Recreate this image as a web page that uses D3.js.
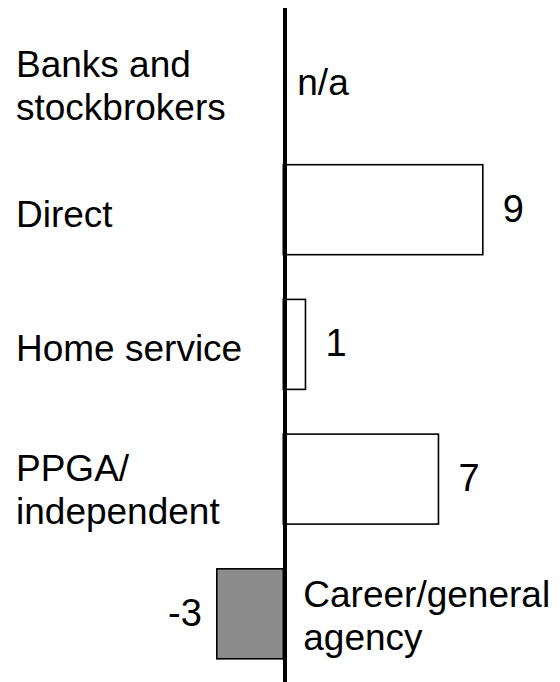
<!DOCTYPE html>
<html>
<head>
<meta charset="utf-8">
<script src="https://cdn.jsdelivr.net/npm/d3@7"></script>
<style>
  body { margin: 0; background: #fff; }
  text { font-family: "Liberation Sans", Arial, sans-serif; fill: #000; }
</style>
</head>
<body>
<div id="chart"></div>
<script>
// rows from top to bottom
const categories = ["Banks and stockbrokers", "Direct", "Home service", "PPGA/ independent", "Career/general agency"];
// label lines for each category
const labelLines = [["Banks and", "stockbrokers"], ["Direct"], ["Home service"], ["PPGA/", "independent"], ["Career/general", "agency"]];
// null = not available
const values = [null, 9, 1, 7, -3];
const valueLabels = ["n/a", "9", "1", "7", "-3"];

const w = 560;
const h = 682;
const fontSize = 37;
const numSize = 38;
const lineH = 43;

const svg = d3.select("#chart")
  .append("svg")
  .attr("width", w)
  .attr("height", h);

const xScale = d3.scaleLinear()
  .domain([-3, 9])
  .range([216.8, 482.8]);

const yScale = d3.scaleBand()
  .domain(categories)
  .range([30, 658.8])
  .paddingInner(0.332)
  .paddingOuter(0);

const rows = categories.map((c, i) => ({ cat: c, lines: labelLines[i], v: values[i], lab: valueLabels[i] }));

// bars
svg.selectAll("rect.bar")
  .data(rows.filter(d => d.v !== null))
  .enter()
  .append("rect")
  .attr("class", "bar")
  .attr("x", d => xScale(Math.min(0, d.v)))
  .attr("y", d => yScale(d.cat))
  .attr("width", d => Math.abs(xScale(d.v) - xScale(0)))
  .attr("height", yScale.bandwidth())
  .attr("fill", d => d.v < 0 ? "#8c8c8c" : "#fff")
  .attr("stroke", "#000")
  .attr("stroke-width", 1.6);

// vertical zero axis
svg.append("line")
  .attr("x1", xScale(0) + 1.7)
  .attr("x2", xScale(0) + 1.7)
  .attr("y1", 8)
  .attr("y2", h)
  .attr("stroke", "#000")
  .attr("stroke-width", 4);

// category labels (left of axis, or right of it when the bar is negative)
const catLabels = svg.selectAll("text.cat")
  .data(rows)
  .enter()
  .append("text")
  .attr("class", "cat")
  .style("font-size", fontSize + "px")
  .attr("x", d => d.v !== null && d.v < 0 ? xScale(0) + 20 : 16)
  .attr("y", d => {
    const c = yScale(d.cat) + yScale.bandwidth() / 2;
    if (d.lines.length === 1) return c + 17;
    return d.v !== null && d.v < 0 ? c - 7 : c + 2;
  });

catLabels.selectAll("tspan")
  .data(d => d.lines)
  .enter()
  .append("tspan")
  .attr("x", function () { return d3.select(this.parentNode).attr("x"); })
  .attr("dy", (d, i) => i === 0 ? 0 : lineH)
  .text(d => d);

// value labels
svg.selectAll("text.val")
  .data(rows)
  .enter()
  .append("text")
  .attr("class", "val")
  .style("font-size", d => (d.v === null ? fontSize : numSize) + "px")
  .attr("text-anchor", d => d.v !== null && d.v < 0 ? "end" : "start")
  .attr("x", d => {
    if (d.v === null) return xScale(0) + 14;
    return d.v < 0 ? xScale(d.v) - 15 : xScale(d.v) + 20;
  })
  .attr("y", d => yScale(d.cat) + yScale.bandwidth() / 2 + (d.v === null ? 20 : 12))
  .text(d => d.lab);
</script>
</body>
</html>
